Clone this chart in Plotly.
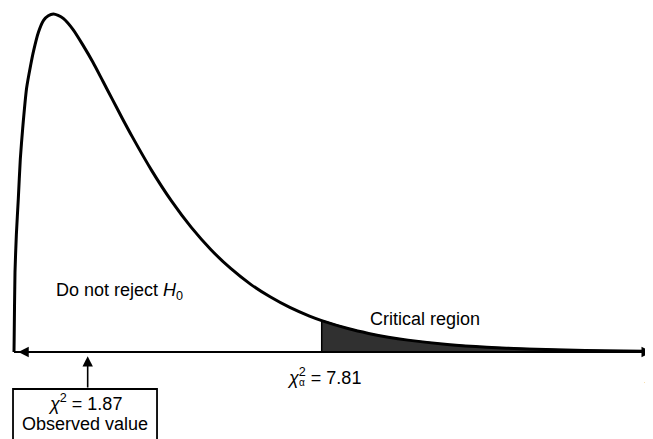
import plotly.graph_objects as go

# Chi-square density (df = 3)
chi_x = [0, 0.004, 0.025, 0.06, 0.11, 0.16, 0.22, 0.32, 0.42, 0.5, 0.62, 0.75, 0.87, 1.0,
         1.12, 1.25, 1.5, 1.75, 2.0, 2.25, 2.5, 2.75, 3.0, 3.5, 4.0, 4.5, 5.0, 5.5, 6.0,
         6.5, 7.0, 7.5, 7.81, 8.5, 9.0, 9.5, 10.0, 11.0, 12.0, 13.0, 14.0, 15.0, 16.0,
         16.19]
density = [0, 0.009, 0.057, 0.084, 0.110, 0.138, 0.160, 0.189, 0.205, 0.216, 0.229,
           0.2375, 0.2408, 0.2420, 0.2410, 0.2388, 0.2308, 0.2197, 0.2076, 0.1942,
           0.1807, 0.1672, 0.1542, 0.1297, 0.1080, 0.0892, 0.0732, 0.0598, 0.0486,
           0.0395, 0.0319, 0.0257, 0.0225, 0.0166, 0.0133, 0.0106, 0.0085, 0.0054,
           0.0034, 0.0022, 0.0014, 0.0009, 0.0005, 0.0004]

critical_value = 7.81
observed_value = 1.87
x_end = 16.19

crit_x = [x for x in chi_x if x >= critical_value]
crit_y = [d for x, d in zip(chi_x, density) if x >= critical_value]
crit_height = density[chi_x.index(critical_value)]

fig = go.Figure()

# shaded critical region
fig.add_trace(go.Scatter(
    x=crit_x, y=crit_y, mode="lines", fill="tozeroy",
    fillcolor="rgba(25,25,25,0.9)", line=dict(color="black", width=1.5),
    hoverinfo="skip", showlegend=False))
fig.add_trace(go.Scatter(
    x=[critical_value, critical_value], y=[0, crit_height], mode="lines",
    line=dict(color="black", width=1.5), hoverinfo="skip", showlegend=False))

# density curve
fig.add_trace(go.Scatter(
    x=chi_x, y=density, mode="lines",
    line=dict(color="black", width=3, shape="spline", smoothing=0.6),
    hoverinfo="skip", showlegend=False))

# horizontal axis line
fig.add_shape(type="line", x0=0, x1=x_end, y0=0, y1=0,
              line=dict(color="black", width=2))

font = dict(family="Liberation Sans, Arial, sans-serif", size=18, color="black")

annotations = [
    # arrowheads on the axis
    dict(x=x_end, y=0, ax=x_end - 0.6, ay=0, axref="x", ayref="y", text="",
         showarrow=True, arrowhead=2, arrowsize=1.3, arrowwidth=1.6, arrowcolor="black"),
    dict(x=0.11, y=0, ax=0.7, ay=0, axref="x", ayref="y", text="",
         showarrow=True, arrowhead=2, arrowsize=1.3, arrowwidth=1.6, arrowcolor="black"),
    # arrow from observed-value box
    dict(x=observed_value, y=-0.003, ax=observed_value, ay=-0.0265, axref="x", ayref="y",
         text="", showarrow=True, arrowhead=2, arrowsize=1.3, arrowwidth=1.6,
         arrowcolor="black"),
    dict(x=2.665, y=0.043, text="Do not reject <i>H</i><sub>0</sub>", showarrow=False,
         font=font, xanchor="center", yanchor="middle"),
    dict(x=10.43, y=0.0236, text="Critical region", showarrow=False,
         font=font, xanchor="center", yanchor="middle"),
    dict(x=(285 - 14) / 39.4, y=-0.0172, text="<i>χ</i><sup>2</sup> = 7.81",
         showarrow=False, font=font, xanchor="left", yanchor="middle"),
    dict(x=(297 - 14) / 39.4, y=-0.0215, text="α", showarrow=False,
         font=dict(family="Liberation Sans, Arial, sans-serif", size=10, color="black"),
         xanchor="left", yanchor="middle"),
    dict(x=observed_value - 0.07, y=-0.0365, text="<i>χ</i><sup>2</sup> = 1.87",
         showarrow=False, font=font, xanchor="center", yanchor="middle"),
    dict(x=observed_value - 0.07, y=-0.0515, text="Observed value",
         showarrow=False, font=font, xanchor="center", yanchor="middle"),
    dict(x=15.94, y=-0.0143, text="<i>χ</i><sup>2</sup>", showarrow=False,
         font=font, xanchor="left", yanchor="middle"),
]

# observed-value box (open at the bottom: its bottom edge lies below the picture)
box_l, box_r, box_t, box_b = -0.025, 3.63, -0.0265, -0.11
fig.add_shape(type="path",
              path=f"M {box_l},{box_b} L {box_l},{box_t} L {box_r},{box_t} L {box_r},{box_b}",
              line=dict(color="black", width=1.8))

# ranges shifted to compensate for the 8px page margin
px_x = 39.4
px_y = 1396.7
x_min = -6 / px_x
y_max = 344 / px_y

fig.update_layout(
    width=653, height=439,
    margin=dict(l=0, r=0, t=0, b=0),
    paper_bgcolor="white", plot_bgcolor="white",
    xaxis=dict(range=[x_min, x_min + 653 / px_x], visible=False, fixedrange=True),
    yaxis=dict(range=[y_max - 439 / px_y, y_max], visible=False, fixedrange=True),
    annotations=annotations,
    showlegend=False,
)

fig.write_html("out.html")
